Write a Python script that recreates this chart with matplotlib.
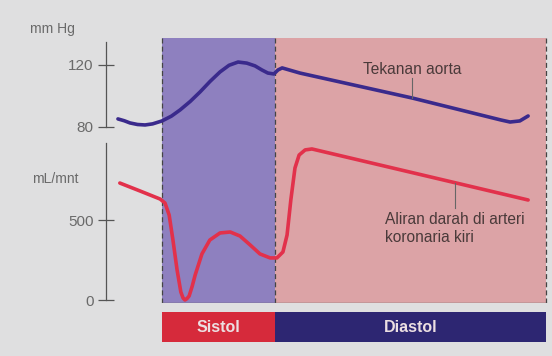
import matplotlib
matplotlib.use("Agg")
import matplotlib.pyplot as plt

# time in seconds, systole starts at 0
phase_names = ["Sistol", "Diastol"]
phase_start = [0.0, 0.30]
phase_end = [0.30, 1.02]

# aortic pressure (mm Hg)
aorta_t = [-0.117, -0.100, -0.085, -0.065, -0.045, -0.025, 0.0, 0.025, 0.048,
           0.075, 0.101, 0.128, 0.154, 0.178, 0.202, 0.225, 0.247, 0.265,
           0.281, 0.297, 0.308, 0.319, 0.366, 0.664, 0.900, 0.924, 0.950, 0.972]
aorta_p = [85.2, 84.0, 82.6, 81.6, 81.3, 82.0, 83.9, 87.0, 91.0,
           96.5, 102.6, 109.5, 115.5, 119.8, 121.9, 121.2, 119.4, 116.8,
           114.8, 114.2, 116.8, 118.1, 114.8, 98.7, 84.5, 83.2, 83.9, 87.1]

# left coronary artery flow (mL/mnt)
flow_t = [-0.112, -0.058, -0.005, 0.008, 0.019, 0.029, 0.040, 0.050, 0.056,
          0.061, 0.066, 0.072, 0.080, 0.088, 0.106, 0.127, 0.154, 0.181,
          0.207, 0.234, 0.260, 0.287, 0.305, 0.321, 0.332, 0.342, 0.353,
          0.364, 0.380, 0.398, 0.778, 0.972]
flow_v = [731, 681, 631, 606, 531, 375, 188, 50, 12,
          0, 8, 25, 85, 156, 288, 375, 419, 425,
          400, 344, 288, 263, 263, 300, 406, 625, 825,
          906, 938, 944, 733, 625]

p_ticks = [80, 120]
f_ticks = [0, 500]

BG = "#dfdfe0"
SYS_FILL = "#8e80bf"
DIA_FILL = "#dca3a6"
SYS_BAR = "#d62a3b"
DIA_BAR = "#2d2672"
AORTA = "#3a2a8c"
FLOW = "#e2314b"
AXIS = "#555555"
TXT = "#6a6a6a"
LABEL = "#4a3a3a"

W, H = 552, 356
XLIM = (-0.1487, 1.0354)


def box(x0, y0, x1, y1):
    # pixel box (top-left origin) -> figure fraction rect
    return [x0 / W, 1 - y1 / H, (x1 - x0) / W, (y1 - y0) / H]


plt.rcParams["font.family"] = ["Liberation Sans", "DejaVu Sans"]
fig = plt.figure(figsize=(W / 100, H / 100), dpi=100, facecolor=BG)

# shaded phases
bg = fig.add_axes(box(106, 38, 552, 303))
bg.set_xlim(*XLIM)
bg.set_ylim(0, 1)
bg.axis("off")
for s, e, c in zip(phase_start, phase_end, [SYS_FILL, DIA_FILL]):
    bg.axvspan(s, e, color=c, lw=0)
for x in [phase_start[0], phase_start[1], phase_end[1]]:
    bg.axvline(x, color="#444444", ls=(0, (4, 2.5)), lw=0.9)
bg.plot([phase_start[0], phase_end[1]], [0, 0], color="#666666", lw=1.0)

# pressure panel
ax_p = fig.add_axes(box(106, 38, 552, 140))
ax_p.patch.set_alpha(0)
ax_p.set_xlim(*XLIM)
ax_p.set_ylim(71.6, 137.4)
ax_p.plot(aorta_t, aorta_p, color=AORTA, lw=2.6, solid_capstyle="round")
ax_p.plot([0.664, 0.664], [98.7, 111.6], color="#666666", lw=0.8)
ax_p.text(0.664, 117.0, "Tekanan aorta", ha="center", va="center",
          fontsize=11.2, color=LABEL)

# flow panel
ax_f = fig.add_axes(box(106, 140, 552, 306))
ax_f.patch.set_alpha(0)
ax_f.set_xlim(*XLIM)
ax_f.set_ylim(-37.5, 1000)
ax_f.plot(flow_t, flow_v, color=FLOW, lw=2.6, solid_capstyle="round")
ax_f.plot([0.778, 0.778], [733, 575], color="#666666", lw=0.8)
ax_f.text(0.592, 447, "Aliran darah di arteri\nkoronaria kiri", ha="left",
          va="center", fontsize=11.2, color=LABEL, linespacing=1.25)

for ax, ticks, lo, hi in [(ax_p, p_ticks, 80, 134.8), (ax_f, f_ticks, 0, 981)]:
    for side in ["top", "right", "bottom"]:
        ax.spines[side].set_visible(False)
    ax.spines["left"].set_bounds(lo, hi)
    ax.spines["left"].set_color(AXIS)
    ax.spines["left"].set_linewidth(0.9)
    ax.set_xticks([])
    ax.set_yticks(ticks)
    ax.set_yticklabels([str(t) for t in ticks])
    ax.tick_params(axis="y", direction="inout", length=12, width=0.9,
                   colors=AXIS, labelcolor=TXT, labelsize=11, pad=3)

fig.text(30 / W, 1 - 29 / H, "mm Hg", ha="left", va="center", fontsize=10, color=TXT)
fig.text(32 / W, 1 - 179 / H, "mL/mnt", ha="left", va="center", fontsize=10, color=TXT)

# phase bar
ax_b = fig.add_axes(box(106, 312, 552, 342))
ax_b.set_xlim(*XLIM)
ax_b.set_ylim(0, 1)
ax_b.axis("off")
for name, s, e, c in zip(phase_names, phase_start, phase_end, [SYS_BAR, DIA_BAR]):
    ax_b.barh(0.5, e - s, left=s, height=1, color=c, lw=0)
    ax_b.text((s + e) / 2, 0.5, name, ha="center", va="center", fontsize=11.5,
              fontweight="bold", color="#ecdfe2")

fig.savefig("out.png", dpi=100, facecolor=BG)
